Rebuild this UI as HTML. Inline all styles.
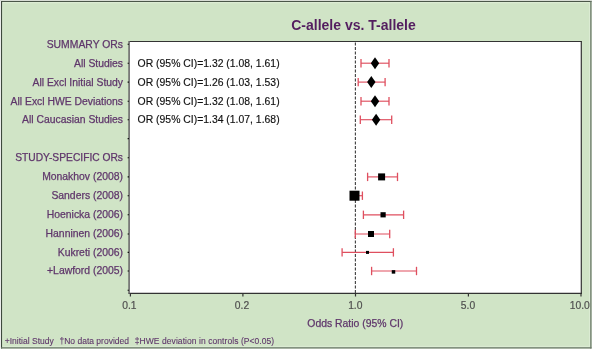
<!DOCTYPE html>
<html><head><meta charset="utf-8"><style>
html,body{margin:0;padding:0;background:#fff;width:593px;height:350px;overflow:hidden;position:relative}
svg text{font-family:"Liberation Sans",sans-serif}
svg{will-change:transform}
.lb{stroke:#5f366b;stroke-width:0.25px}
.lb2{stroke:#5f366b;stroke-width:0.1px}
.bk{stroke:#111;stroke-width:0.15px}
.tk{stroke:#505050;stroke-width:0.2px}
</style></head><body>

<svg width="593" height="350" viewBox="0 0 593 350" style="position:absolute;left:0;top:0">
<rect x="0" y="0" width="592" height="1" fill="#d8ddd5"/>
<rect x="1" y="1" width="590.5" height="347.5" fill="#d0e4c6"/>
<line x1="2.2" y1="2.7" x2="590" y2="2.7" stroke="#e0eed8" stroke-width="1"/>
<line x1="2.7" y1="2.2" x2="2.7" y2="346.8" stroke="#dcecd4" stroke-width="1"/>
<line x1="589.6" y1="2.2" x2="589.6" y2="346.8" stroke="#dcecd4" stroke-width="1"/>
<line x1="2.2" y1="346.4" x2="590" y2="346.4" stroke="#dcecd4" stroke-width="1"/>
<line x1="1" y1="1.5" x2="591.5" y2="1.5" stroke="#4a5648" stroke-width="1.2"/>
<line x1="1.5" y1="1" x2="1.5" y2="348.5" stroke="#3e4a3d" stroke-width="1.2"/>
<line x1="590.9" y1="1" x2="590.9" y2="348.5" stroke="#6a7768" stroke-width="1.3"/>
<line x1="1" y1="347.8" x2="591.5" y2="347.8" stroke="#6a7768" stroke-width="1.3"/>
<text x="353.5" y="30" text-anchor="middle" font-size="14" font-weight="bold" fill="#531d5f">C-allele vs. T-allele</text>
<rect x="129" y="41.5" width="452.3" height="251.7" fill="#fff"/>
<line x1="129" y1="41.5" x2="581.5" y2="41.5" stroke="#333" stroke-width="1.2"/>
<line x1="581.3" y1="41" x2="581.3" y2="293.5" stroke="#333" stroke-width="1.2"/>
<line x1="128.5" y1="293.3" x2="582" y2="293.3" stroke="#333" stroke-width="1.3"/>
<line x1="129.1" y1="41" x2="129.1" y2="293.8" stroke="#6a6a6a" stroke-width="1.6"/>
<line x1="127.6" y1="44.30" x2="129" y2="44.30" stroke="#111" stroke-width="1.1"/>
<line x1="127.6" y1="63.20" x2="129" y2="63.20" stroke="#111" stroke-width="1.1"/>
<line x1="127.6" y1="82.10" x2="129" y2="82.10" stroke="#111" stroke-width="1.1"/>
<line x1="127.6" y1="101.20" x2="129" y2="101.20" stroke="#111" stroke-width="1.1"/>
<line x1="127.6" y1="119.70" x2="129" y2="119.70" stroke="#111" stroke-width="1.1"/>
<line x1="127.6" y1="138.60" x2="129" y2="138.60" stroke="#111" stroke-width="1.1"/>
<line x1="127.6" y1="157.70" x2="129" y2="157.70" stroke="#111" stroke-width="1.1"/>
<line x1="127.6" y1="176.90" x2="129" y2="176.90" stroke="#111" stroke-width="1.1"/>
<line x1="127.6" y1="195.70" x2="129" y2="195.70" stroke="#111" stroke-width="1.1"/>
<line x1="127.6" y1="214.80" x2="129" y2="214.80" stroke="#111" stroke-width="1.1"/>
<line x1="127.6" y1="234.00" x2="129" y2="234.00" stroke="#111" stroke-width="1.1"/>
<line x1="127.6" y1="252.40" x2="129" y2="252.40" stroke="#111" stroke-width="1.1"/>
<line x1="127.6" y1="271.00" x2="129" y2="271.00" stroke="#111" stroke-width="1.1"/>
<line x1="127.6" y1="290.30" x2="129" y2="290.30" stroke="#111" stroke-width="1.1"/>
<line x1="130.40" y1="293.5" x2="130.40" y2="296.5" stroke="#333" stroke-width="1.2"/>
<text x="129.40" y="308.8" text-anchor="middle" font-size="10.3" fill="#505050" class="tk">0.1</text>
<line x1="242.90" y1="293.5" x2="242.90" y2="296.5" stroke="#333" stroke-width="1.2"/>
<text x="242.00" y="308.8" text-anchor="middle" font-size="10.3" fill="#505050" class="tk">0.2</text>
<line x1="355.50" y1="293.5" x2="355.50" y2="296.5" stroke="#333" stroke-width="1.2"/>
<text x="355.30" y="308.8" text-anchor="middle" font-size="10.3" fill="#505050" class="tk">1.0</text>
<line x1="468.40" y1="293.5" x2="468.40" y2="296.5" stroke="#333" stroke-width="1.2"/>
<text x="468.00" y="308.8" text-anchor="middle" font-size="10.3" fill="#505050" class="tk">5.0</text>
<line x1="581.00" y1="293.5" x2="581.00" y2="296.5" stroke="#333" stroke-width="1.2"/>
<text x="579.80" y="308.8" text-anchor="middle" font-size="10.3" fill="#505050" class="tk">10.0</text>
<line x1="355.4" y1="42" x2="355.4" y2="293" stroke="#454545" stroke-width="1.15" stroke-dasharray="3.1 1.4" stroke-dashoffset="-0.5"/>
<text x="123" y="47.70" text-anchor="end" font-size="10.38" fill="#5f366b" class="lb">SUMMARY ORs</text>
<text x="123" y="66.60" text-anchor="end" font-size="10.38" fill="#5f366b" class="lb">All Studies</text>
<text x="123" y="85.50" text-anchor="end" font-size="10.38" fill="#5f366b" class="lb">All Excl Initial Study</text>
<text x="123" y="104.60" text-anchor="end" font-size="10.38" fill="#5f366b" class="lb">All Excl HWE Deviations</text>
<text x="123" y="123.10" text-anchor="end" font-size="10.38" fill="#5f366b" class="lb">All Caucasian Studies</text>
<text x="123" y="161.10" text-anchor="end" font-size="10.25" fill="#5f366b" class="lb">STUDY-SPECIFIC ORs</text>
<text x="123" y="180.30" text-anchor="end" font-size="10.4" fill="#5f366b" class="lb">Monakhov (2008)</text>
<text x="123" y="199.10" text-anchor="end" font-size="10.4" fill="#5f366b" class="lb">Sanders (2008)</text>
<text x="123" y="218.20" text-anchor="end" font-size="10.4" fill="#5f366b" class="lb">Hoenicka (2006)</text>
<text x="123" y="237.40" text-anchor="end" font-size="10.4" fill="#5f366b" class="lb">Hanninen (2006)</text>
<text x="123" y="255.80" text-anchor="end" font-size="10.4" fill="#5f366b" class="lb">Kukreti (2006)</text>
<text x="123" y="274.40" text-anchor="end" font-size="10.4" fill="#5f366b" class="lb">+Lawford (2005)</text>
<text x="137.6" y="66.80" font-size="10.42" fill="#111" class="bk">OR (95% CI)=1.32 (1.08, 1.61)</text>
<line x1="361.00" y1="63.20" x2="389.00" y2="63.20" stroke="#df4f5f" stroke-width="1.15"/>
<line x1="361.00" y1="59.00" x2="361.00" y2="67.40" stroke="#df4f5f" stroke-width="1.3"/>
<line x1="389.00" y1="59.00" x2="389.00" y2="67.40" stroke="#df4f5f" stroke-width="1.3"/>
<path d="M370.80 63.20L375.00 57.20L379.20 63.20L375.00 69.20Z" fill="#000"/>
<text x="137.6" y="85.70" font-size="10.42" fill="#111" class="bk">OR (95% CI)=1.26 (1.03, 1.53)</text>
<line x1="358.20" y1="82.10" x2="385.10" y2="82.10" stroke="#df4f5f" stroke-width="1.15"/>
<line x1="358.20" y1="77.90" x2="358.20" y2="86.30" stroke="#df4f5f" stroke-width="1.3"/>
<line x1="385.10" y1="77.90" x2="385.10" y2="86.30" stroke="#df4f5f" stroke-width="1.3"/>
<path d="M367.10 82.10L371.30 76.10L375.50 82.10L371.30 88.10Z" fill="#000"/>
<text x="137.6" y="104.80" font-size="10.42" fill="#111" class="bk">OR (95% CI)=1.32 (1.08, 1.61)</text>
<line x1="361.00" y1="101.20" x2="389.00" y2="101.20" stroke="#df4f5f" stroke-width="1.15"/>
<line x1="361.00" y1="97.00" x2="361.00" y2="105.40" stroke="#df4f5f" stroke-width="1.3"/>
<line x1="389.00" y1="97.00" x2="389.00" y2="105.40" stroke="#df4f5f" stroke-width="1.3"/>
<path d="M370.80 101.20L375.00 95.20L379.20 101.20L375.00 107.20Z" fill="#000"/>
<text x="137.6" y="123.30" font-size="10.42" fill="#111" class="bk">OR (95% CI)=1.34 (1.07, 1.68)</text>
<line x1="360.30" y1="119.70" x2="391.70" y2="119.70" stroke="#df4f5f" stroke-width="1.15"/>
<line x1="360.30" y1="115.50" x2="360.30" y2="123.90" stroke="#df4f5f" stroke-width="1.3"/>
<line x1="391.70" y1="115.50" x2="391.70" y2="123.90" stroke="#df4f5f" stroke-width="1.3"/>
<path d="M371.90 119.70L376.10 113.70L380.30 119.70L376.10 125.70Z" fill="#000"/>
<line x1="367.60" y1="176.90" x2="397.50" y2="176.90" stroke="#df4f5f" stroke-width="1.15"/>
<line x1="367.60" y1="172.70" x2="367.60" y2="181.10" stroke="#df4f5f" stroke-width="1.3"/>
<line x1="397.50" y1="172.70" x2="397.50" y2="181.10" stroke="#df4f5f" stroke-width="1.3"/>
<rect x="378.10" y="173.40" width="7" height="7" fill="#000"/>
<line x1="351.00" y1="195.70" x2="362.40" y2="195.70" stroke="#df4f5f" stroke-width="1.15"/>
<line x1="351.00" y1="191.50" x2="351.00" y2="199.90" stroke="#df4f5f" stroke-width="1.3"/>
<line x1="362.40" y1="191.50" x2="362.40" y2="199.90" stroke="#df4f5f" stroke-width="1.3"/>
<rect x="349.50" y="190.70" width="10" height="10" fill="#000"/>
<line x1="363.40" y1="214.80" x2="403.60" y2="214.80" stroke="#df4f5f" stroke-width="1.15"/>
<line x1="363.40" y1="210.60" x2="363.40" y2="219.00" stroke="#df4f5f" stroke-width="1.3"/>
<line x1="403.60" y1="210.60" x2="403.60" y2="219.00" stroke="#df4f5f" stroke-width="1.3"/>
<rect x="380.50" y="212.20" width="5.2" height="5.2" fill="#000"/>
<line x1="355.30" y1="234.00" x2="389.70" y2="234.00" stroke="#df4f5f" stroke-width="1.15"/>
<line x1="355.30" y1="229.80" x2="355.30" y2="238.20" stroke="#df4f5f" stroke-width="1.3"/>
<line x1="389.70" y1="229.80" x2="389.70" y2="238.20" stroke="#df4f5f" stroke-width="1.3"/>
<rect x="368.00" y="231.00" width="6" height="6" fill="#000"/>
<line x1="342.10" y1="252.40" x2="393.40" y2="252.40" stroke="#df4f5f" stroke-width="1.15"/>
<line x1="342.10" y1="248.20" x2="342.10" y2="256.60" stroke="#df4f5f" stroke-width="1.3"/>
<line x1="393.40" y1="248.20" x2="393.40" y2="256.60" stroke="#df4f5f" stroke-width="1.3"/>
<rect x="366.00" y="250.90" width="3" height="3" fill="#000"/>
<line x1="371.60" y1="271.00" x2="416.50" y2="271.00" stroke="#df4f5f" stroke-width="1.15"/>
<line x1="371.60" y1="266.80" x2="371.60" y2="275.20" stroke="#df4f5f" stroke-width="1.3"/>
<line x1="416.50" y1="266.80" x2="416.50" y2="275.20" stroke="#df4f5f" stroke-width="1.3"/>
<rect x="391.75" y="270.15" width="3.5" height="3.5" fill="#000"/>
<text x="355.3" y="326.5" text-anchor="middle" font-size="10.42" fill="#5f366b" class="lb">Odds Ratio (95% CI)</text>
<text x="4.8" y="344.1" font-size="8.5" fill="#5f366b" class="lb2">+Initial Study</text>
<text x="59.5" y="344.1" font-size="8.5" fill="#5f366b" class="lb2">†No data provided</text>
<text x="134.8" y="344.1" font-size="8.5" fill="#5f366b" class="lb2" textLength="139.4" lengthAdjust="spacing">‡HWE deviation in controls (P&lt;0.05)</text>
</svg>
</body></html>
